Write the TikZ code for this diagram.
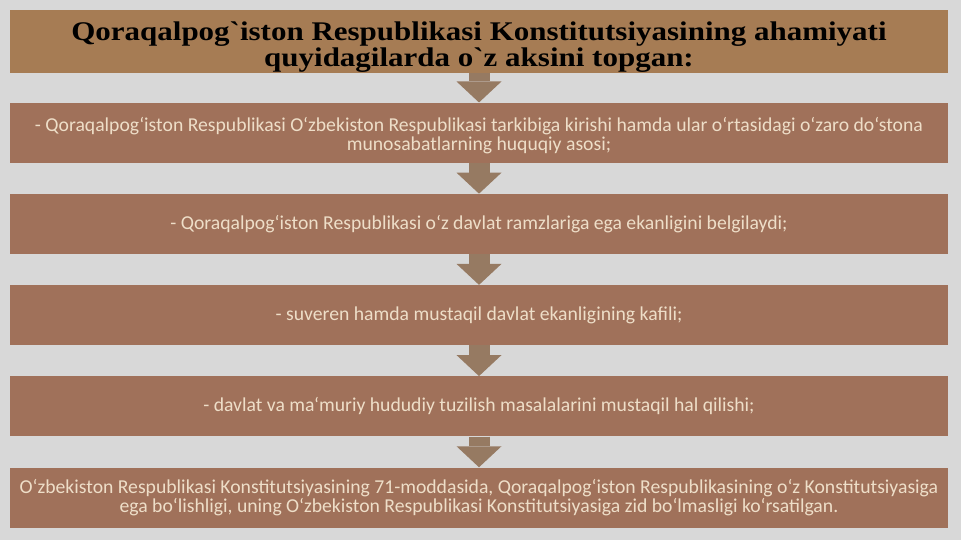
\documentclass[tikz,border=0pt]{standalone}
\usepackage{fontspec}
\setmainfont{Carlito}
\newfontfamily\headfont[FakeStretch=1.15]{Liberation Serif}
\usetikzlibrary{arrows.meta,positioning}
\definecolor{bggray}{RGB}{216,216,216}
\definecolor{headbrown}{RGB}{166,124,84}
\definecolor{boxbrown}{RGB}{160,113,90}
\definecolor{arrowbrown}{RGB}{150,122,98}
\definecolor{cream}{RGB}{238,222,200}

\begin{document}
\begin{tikzpicture}[x=0.03cm, y=-0.03cm, node distance=2.736cm,
                    main node/.style={rectangle,fill=boxbrown,minimum width=28.14cm,minimum height=1.8cm,
                      inner sep=0pt,align=center,text=cream,font=\fontsize{16.8}{16.4}\selectfont},
                    head node/.style={main node,fill=headbrown,text=black,
                      font=\headfont\bfseries\fontsize{23}{22}\selectfont},
                    down arrow/.style={color=arrowbrown,line width=0.63cm,
                      -{Triangle[width=1.35cm,length=0.63cm,line width=0pt]}}]

  \fill[bggray] (0,0) rectangle (961,540);
  \useasboundingbox (0,0) rectangle (961,540);

  \node[head node] (1) at (479,41.5) {\rule{0pt}{26pt}Qoraqalpog`iston Respublikasi Konstitutsiyasining ahamiyati\\quyidagilarda o`z aksini topgan:};
  \node[main node] (2) [below of=1] {\rule{0pt}{17pt}- Qoraqalpog`iston Respublikasi O`zbekiston Respublikasi tarkibiga kirishi hamda ular o`rtasidagi o`zaro do`stona\\munosabatlarning huquqiy asosi;};
  \node[main node] (3) [below of=2] {- Qoraqalpog`iston Respublikasi o`z davlat ramzlariga ega ekanligini belgilaydi;};
  \node[main node] (4) [below of=3] {- suveren hamda mustaqil davlat ekanligining kafili;};
  \node[main node] (5) [below of=4] {- davlat va ma`muriy hududiy tuzilish masalalarini mustaqil hal qilishi;};
  \node[main node] (6) [below of=5] {O`zbekiston Respublikasi Konstitutsiyasining 71-moddasida, Qoraqalpog`iston Respublikasining o`z Konstitutsiyasiga\\ega bo`lishligi, uning O`zbekiston Respublikasi Konstitutsiyasiga zid bo`lmasligi ko`rsatilgan.};

\path[down arrow]
    (1) edge (2)
    (2) edge (3)
    (3) edge (4)
    (4) edge (5)
    (5) edge (6);

\end{tikzpicture}
\end{document}
